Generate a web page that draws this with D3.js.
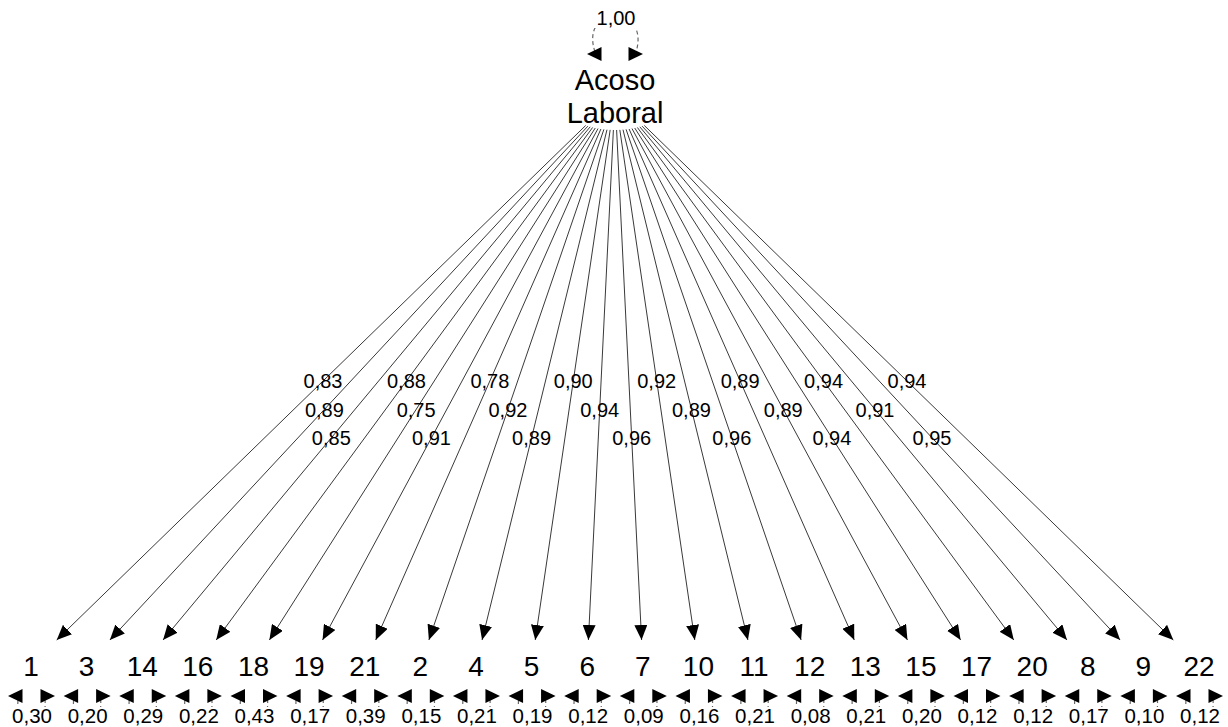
<!DOCTYPE html>
<html>
<head>
<meta charset="utf-8">
<script src="https://cdn.jsdelivr.net/npm/d3@7"></script>
<style>
  body { margin: 0; background: #fff; }
  text { font-family: "Liberation Sans", Arial, sans-serif; fill: #000; }
</style>
</head>
<body>
<div id="chart"></div>
<script>
// indicators in the order they are drawn, left to right
const items = ["1","3","14","16","18","19","21","2","4","5","6","7","10","11","12","13","15","17","20","8","9","22"];
const loadings = [0.83,0.89,0.85,0.88,0.75,0.91,0.78,0.92,0.89,0.90,0.94,0.96,0.92,0.89,0.96,0.89,0.89,0.94,0.94,0.91,0.95,0.94];
const residuals = [0.30,0.20,0.29,0.22,0.43,0.17,0.39,0.15,0.21,0.19,0.12,0.09,0.16,0.21,0.08,0.21,0.20,0.12,0.12,0.17,0.10,0.12];
const latentLines = ["Acoso", "Laboral"];
const latentVariance = 1.00;
// where along each edge the loading label sits (cycled)
const labelPos = [0.50, 0.55, 0.60];

class PathDiagram {
  constructor(_config) {
    this.config = {
      parentElement: _config.parentElement,
      containerWidth: _config.containerWidth || 1228,
      containerHeight: _config.containerHeight || 727
    };
    this.initVis();
  }

  initVis() {
    let vis = this;
    vis.fmt = d3.formatLocale({decimal: ",", thousands: ".", grouping: [3], currency: ["", ""]}).format(".2f");

    vis.svg = d3.select(vis.config.parentElement).append("svg")
      .attr("width", vis.config.containerWidth)
      .attr("height", vis.config.containerHeight);

    // x positions of the indicators, y positions of the two layers
    vis.xScale = d3.scalePoint().domain(items).range([31, 1199]);
    vis.yScale = d3.scaleLinear().domain([0, 1]).range([97, 665]);
    vis.latentX = 615;

    vis.svg.append("defs").append("marker")
      .attr("id", "arrow")
      .attr("viewBox", "0 -6.5 15 13")
      .attr("refX", 15).attr("refY", 0)
      .attr("markerWidth", 15).attr("markerHeight", 13)
      .attr("markerUnits", "userSpaceOnUse")
      .attr("orient", "auto")
      .append("path").attr("d", "M0,-6.5L15,0L0,6.5Z").attr("fill", "#000");

    vis.renderVis();
  }

  renderVis() {
    let vis = this;
    const lx = vis.latentX, ly = vis.yScale(0), my = vis.yScale(1);
    const rx = 58, ry = 33;   // latent node outline (not drawn)
    const hw = 27, hh = 25;   // indicator box half sizes (not drawn)

    const edges = items.map((d, i) => {
      const tx = vis.xScale(d);
      const dx = tx - lx, dy = my - ly;
      const len = Math.hypot(dx, dy), ux = dx / len, uy = dy / len;
      const ts = 1 / Math.sqrt((ux / rx) ** 2 + (uy / ry) ** 2);
      const te = Math.min(hw / Math.abs(ux || 1e-9), hh / Math.abs(uy));
      const p = labelPos[i % labelPos.length];
      return {
        item: d, loading: loadings[i],
        x1: lx + ux * ts, y1: ly + uy * ts,
        x2: tx - ux * te, y2: my - uy * te,
        lxp: lx + dx * p, lyp: ly + dy * p
      };
    });

    vis.svg.selectAll(".edge").data(edges).join("line")
      .attr("class", "edge")
      .attr("x1", d => d.x1).attr("y1", d => d.y1)
      .attr("x2", d => d.x2).attr("y2", d => d.y2)
      .attr("stroke", "#222").attr("stroke-width", 0.9)
      .attr("marker-end", "url(#arrow)");

    vis.svg.selectAll(".loading").data(edges).join("text")
      .attr("class", "loading")
      .attr("x", d => d.lxp).attr("y", d => d.lyp)
      .attr("text-anchor", "middle").attr("dy", "0.36em")
      .style("font-size", "20px")
      .text(d => vis.fmt(d.loading));

    // latent label
    vis.svg.append("text")
      .attr("x", lx).attr("text-anchor", "middle")
      .style("font-size", "29px")
      .selectAll("tspan").data(latentLines).join("tspan")
      .attr("x", lx).attr("y", (d, i) => ly - 7 + i * 33)
      .text(d => d);

    // latent variance loop
    const vy = 54;
    vis.svg.append("path")
      .attr("d", `M${lx - 20},${vy - 2} C${lx - 36},${vy - 50} ${lx + 36},${vy - 50} ${lx + 21},${vy - 2}`)
      .attr("fill", "none").attr("stroke", "#666").attr("stroke-width", 1.2)
      .attr("stroke-dasharray", "4,3");
    [-1, 1].forEach(s => {
      vis.svg.append("path")
        .attr("d", `M${lx + s * 13.5},${vy - 7}L${lx + s * 28},${vy}L${lx + s * 13.5},${vy + 7}Z`)
        .attr("fill", "#000");
    });
    vis.svg.append("rect")
      .attr("x", lx - 21).attr("y", 7).attr("width", 43).attr("height", 21).attr("fill", "#fff");
    vis.svg.append("text")
      .attr("x", lx + 1).attr("y", 25).attr("text-anchor", "middle")
      .style("font-size", "20px")
      .text(vis.fmt(latentVariance));

    // indicators
    const ind = vis.svg.selectAll(".item").data(items).join("g")
      .attr("class", "item")
      .attr("transform", d => `translate(${vis.xScale(d)},0)`);

    ind.append("text")
      .attr("y", 676).attr("text-anchor", "middle")
      .style("font-size", "28px")
      .text(d => d);

    const ay = 696;
    ind.append("path")
      .attr("d", `M-13,${ay + 4} C-16,${ay + 34} 17,${ay + 34} 14,${ay + 4}`)
      .attr("fill", "none").attr("stroke", "#666").attr("stroke-width", 1.2)
      .attr("stroke-dasharray", "4,3");
    ind.append("path")
      .attr("d", `M-8.5,${ay - 7}L-23,${ay}L-8.5,${ay + 7}Z`).attr("fill", "#000");
    ind.append("path")
      .attr("d", `M9.5,${ay - 7}L24,${ay}L9.5,${ay + 7}Z`).attr("fill", "#000");
    ind.append("rect")
      .attr("x", -21).attr("y", 707).attr("width", 43).attr("height", 20).attr("fill", "#fff");
    ind.append("text")
      .attr("x", 1).attr("y", 723).attr("text-anchor", "middle")
      .style("font-size", "20.5px")
      .text((d, i) => vis.fmt(residuals[i]));
  }
}

new PathDiagram({parentElement: "#chart"});
</script>
</body>
</html>
